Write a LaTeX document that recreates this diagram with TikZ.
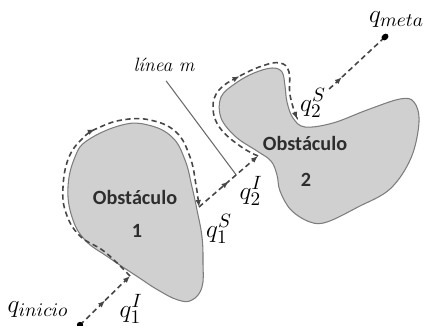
\documentclass[tikz,border=0pt]{standalone}
\usepackage{fontspec}
\newfontfamily\obsfont{Carlito}
\usetikzlibrary{arrows.meta,calc,positioning,decorations.markings}
\definecolor{ObstFill}{RGB}{208,208,208}
\definecolor{ObstEdge}{RGB}{125,125,125}
\definecolor{RouteGray}{RGB}{70,70,70}
\definecolor{LineGray}{RGB}{105,105,105}
\definecolor{TextGray}{RGB}{45,45,45}
\begin{document}
\begin{tikzpicture}[x=0.02cm,y=-0.02cm,
  obst/.style={fill=ObstFill,draw=ObstEdge,line width=.6pt},
  route/.style={draw=RouteGray,line width=.9pt,dash pattern=on 3pt off 2pt},
  endtip/.style={-{Latex[length=4pt,width=3.2pt]}},
  midtip/.style={postaction={decorate},decoration={markings,
    mark=at position #1 with {\arrow{Latex[length=4pt,width=3.2pt]}}}},
  qlab/.style={fill=white,inner sep=1pt,font=\fontsize{15}{17}\selectfont},
  obslab/.style={text=TextGray,font=\obsfont\bfseries\fontsize{11.5}{13}\selectfont}]
\useasboundingbox (0,0) rectangle (426,325);
\draw[obst] plot[smooth cycle,tension=.7] coordinates {(122,125) (148,125) (172,137) (185,160) (192,187) (197,210) (202,237) (203,263) (202,287) (192,300) (178,300) (158,290) (138,277) (108,257) (85,240) (72,217) (68,187) (75,157) (88,140)};
\draw[obst] plot[smooth cycle,tension=.6] coordinates {(272,68) (282,72) (285,86) (287,102) (293,118) (305,127) (333,123) (367,110) (400,99) (414,102) (419,122) (411,158) (390,189) (358,207) (327,222) (310,222) (291,210) (280,191) (277,175) (271,161) (257,151) (236,137) (221,118) (221,97) (236,83) (254,73)};
\node[obslab] (obs1) at (135,197) {Obstáculo};
\node[obslab] (num1) at (137,231) {1};
\node[obslab] (obs2) at (305,143) {Obstáculo};
\node[obslab] (num2) at (306,180) {2};
\coordinate (qi) at (80,325);
\coordinate (q1I) at (130,276);
\coordinate (q1S) at (199,207);
\coordinate (q2I) at (258,156);
\coordinate (q2S) at (297,119);
\coordinate (qm) at (385,37);
\coordinate (mfoot) at ($(q1S)!.63!(q2I)$);
\node[font=\fontsize{11}{13}\selectfont\itshape] (lblm) at (164,65) {línea m};
\draw[LineGray,line width=.6pt,shorten <=2pt] (lblm.south) -- (mfoot);
\draw[route,endtip,midtip=.5] (qi) -- (q1I);
\draw[route,endtip,midtip=.53] plot[smooth,tension=.7] coordinates {(q1I) (105,252) (80,236) (66,213) (63,187) (69,157) (84,137) (98,128) (122,120) (150,120) (176,132) (190,157) (196,185) (q1S)};
\draw[route,endtip,midtip=.5] (q1S) -- (q2I);
\draw[route,endtip,midtip=.52] plot[smooth,tension=.7] coordinates {(q2I) (240,146) (220,128) (213,108) (219,90) (238,77) (262,66) (280,63) (289,72) (290,95) (q2S)};
\draw[route,midtip=.51] (q2S) -- (qm);
\fill (qi) circle (3.2);
\fill[rotate around={40:(qm)}] (qm) ellipse (3.8 and 3);
\node[qlab] (lblqi) at (38,310) {$q_{inicio}$};
\node[qlab] (lblq1I) at (131,309) {$q_1^{I}$};
\node[qlab] (lblq1S) at (219,229) {$q_1^{S}$};
\node[qlab] (lblq2I) at (251,191) {$q_2^{I}$};
\node[qlab] (lblq2S) at (313,103) {$q_2^{S}$};
\node[qlab,anchor=west] (lblqm) at (367,20) {$q_{meta}$};
\end{tikzpicture}
\end{document}
